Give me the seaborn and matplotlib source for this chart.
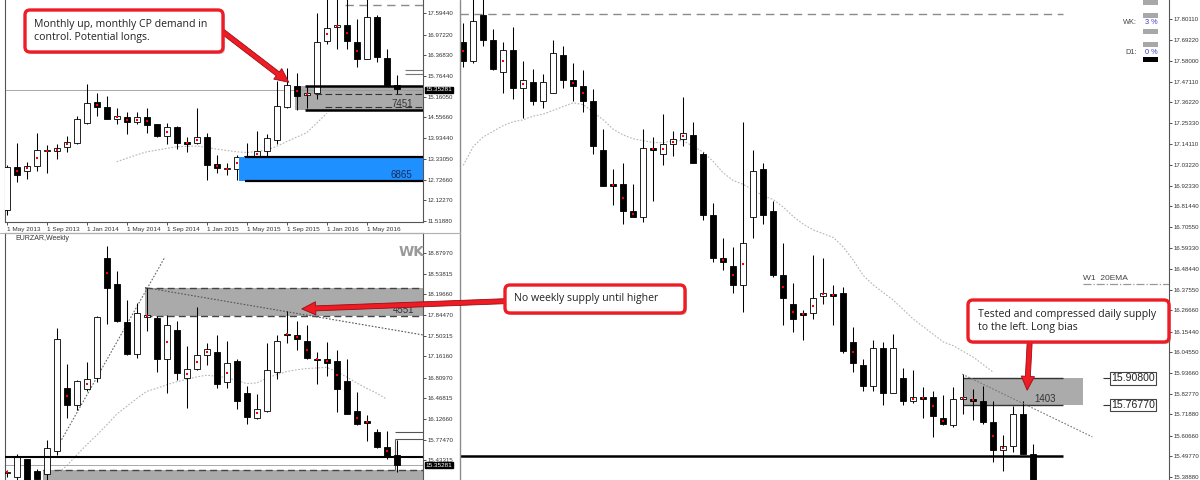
import numpy as np
import seaborn as sns
import matplotlib.pyplot as plt
import matplotlib.transforms as mtransforms
from matplotlib.patches import FancyBboxPatch, FancyArrowPatch, Rectangle
from matplotlib.lines import Line2D

sns.set_style("white")
plt.rcParams["font.family"] = ["Liberation Sans", "DejaVu Sans"]

# ---------------- monthly EURZAR (May 2013 .. Aug 2016) ----------------
m_open = [11.83, 13.10, 12.99, 13.12, 13.57, 13.56, 13.67, 13.81, 14.38, 14.99,
          14.86, 14.50, 14.57, 14.41, 14.55, 14.35, 14.00, 14.28, 13.82, 13.81,
          13.98, 13.18, 13.03, 13.03, 13.38, 13.40, 13.57, 13.90, 14.84, 15.47,
          15.20, 15.27, 16.80, 17.19, 17.26, 16.75, 16.25, 17.48, 16.28, 15.50]
m_high = [13.15, 13.79, 13.23, 14.10, 13.74, 13.77, 14.00, 14.59, 15.53, 15.27,
          15.18, 14.81, 14.72, 14.72, 14.81, 14.36, 14.39, 14.30, 13.96, 14.81,
          14.10, 13.45, 13.22, 13.45, 13.81, 14.16, 14.06, 15.62, 15.99, 15.86,
          15.47, 17.62, 18.09, 18.09, 18.19, 17.42, 18.04, 17.55, 16.54, 15.79]
m_low = [11.70, 12.66, 12.73, 12.99, 12.93, 13.32, 13.54, 13.77, 14.36, 14.59,
         14.49, 14.36, 14.06, 14.36, 14.10, 13.98, 13.77, 13.62, 13.54, 13.77,
         12.71, 12.91, 12.86, 12.71, 13.06, 13.28, 13.40, 13.77, 14.81, 14.77,
         14.81, 15.08, 16.70, 16.54, 16.54, 16.02, 16.25, 16.18, 15.47, 15.23]
m_close = [13.10, 12.86, 13.12, 13.59, 13.58, 13.64, 13.84, 14.49, 14.98, 14.84,
           14.50, 14.60, 14.40, 14.55, 14.34, 14.00, 14.26, 13.81, 13.77, 13.98,
           13.14, 13.07, 13.04, 13.38, 13.40, 13.57, 13.94, 14.88, 15.50, 15.18,
           15.27, 16.77, 17.16, 17.26, 16.80, 16.25, 17.48, 16.33, 15.50, 15.37]
m_dots = [1, 2, 3, 4, 5, 6, 9, 11, 12, 13, 14, 16, 18, 19, 21, 22, 23, 25, 29,
          30, 32, 33, 34, 35]
m_ema_start = 11
m_ema = [13.25, 13.35, 13.45, 13.54, 13.59, 13.64, 13.69, 13.70, 13.71, 13.67,
         13.62, 13.58, 13.54, 13.52, 13.55, 13.59, 13.70, 13.84, 13.97, 14.10,
         14.38, 14.67]
m_date_pos = [0, 4, 8, 12, 16, 20, 24, 28, 32, 36]
m_dates = ["1 May 2013", "1 Sep 2013", "1 Jan 2014", "1 May 2014", "1 Sep 2014",
           "1 Jan 2015", "1 May 2015", "1 Sep 2015", "1 Jan 2016", "1 May 2016"]
m_ticks = [11.5188, 12.1227, 12.7266, 13.3305, 13.9344, 14.5566, 15.1605,
           15.7644, 16.3683, 16.9722, 17.5944]
m_zone = (14.77, 15.47)
m_zone_mid = (14.84, 15.23)
m_demand = (12.69, 13.38)

# ---------------- weekly EURZAR ----------------
w_open = [15.22, 15.16, 15.45, 15.25, 15.21, 15.58, 16.63, 16.35, 16.62, 16.81,
          18.81, 18.37, 17.73, 17.20, 17.82, 17.80, 17.12, 17.60, 16.80, 16.95,
          17.18, 17.23, 16.73, 17.09, 16.55, 16.14, 16.25, 16.90, 17.54, 17.52,
          17.42, 17.12, 17.12, 17.09, 16.76, 16.25, 16.09, 15.91, 15.66, 15.52]
w_high = [15.27, 15.53, 15.46, 15.29, 15.77, 17.63, 17.03, 16.77, 17.07, 17.84,
          19.01, 18.59, 18.10, 18.06, 18.31, 17.84, 17.85, 17.75, 17.34, 17.99,
          17.38, 17.52, 17.42, 17.12, 16.67, 16.53, 17.38, 17.52, 17.92, 17.75,
          17.69, 17.23, 17.40, 17.27, 17.12, 16.57, 16.19, 15.96, 15.92, 15.77]
w_low = [15.15, 15.08, 15.05, 15.05, 15.10, 15.52, 16.14, 16.27, 16.59, 16.74,
         17.71, 17.73, 17.18, 17.14, 17.59, 16.90, 16.56, 16.77, 16.30, 16.94,
         17.02, 16.64, 16.64, 16.29, 16.03, 16.12, 16.24, 16.79, 17.38, 17.27,
         17.12, 16.71, 16.84, 16.24, 16.20, 16.02, 15.75, 15.64, 15.45, 15.23]
w_close = [15.24, 15.51, 15.08, 15.12, 15.63, 17.45, 16.36, 16.75, 16.79, 17.82,
           18.30, 17.75, 17.20, 17.88, 17.86, 17.12, 17.68, 16.88, 16.95, 17.18,
           17.28, 16.70, 17.05, 16.42, 16.16, 16.29, 16.94, 17.42, 17.52, 17.46,
           17.13, 17.11, 17.05, 16.62, 16.21, 16.03, 16.05, 15.66, 15.51, 15.36]
w_dots = [0, 6, 8, 10, 14, 16, 18, 19, 20, 22, 25, 28, 29, 30, 31, 32, 33, 35,
          36, 38]
w_ema_start = 4
w_ema = [15.05, 15.20, 15.34, 15.52, 15.69, 15.85, 16.02, 16.20, 16.33, 16.46,
         16.58, 16.63, 16.69, 16.74, 16.78, 16.82, 16.85, 16.83, 16.81, 16.76,
         16.71, 16.72, 16.80, 16.86, 16.91, 16.94, 16.96, 16.97, 16.98, 16.91,
         16.82, 16.72, 16.63, 16.55, 16.45]
w_ticks = [15.43315, 15.7747, 16.1266, 16.46815, 16.8097, 17.1616, 17.50315,
           17.8447, 18.1966, 18.53815, 18.8797]
w_supply = (17.84, 18.31)
w_base = 15.27
w_level = 15.49

# ---------------- daily EURZAR ----------------
d_open = [17.68, 17.58, 17.82, 17.69, 17.52, 17.64, 17.44, 17.47, 17.37, 17.41,
          17.61, 17.48, 17.45, 17.37, 17.11, 16.93, 16.93, 16.79, 16.76, 17.12,
          17.09, 17.14, 17.17, 17.19, 17.09, 16.77, 16.54, 16.50, 16.40, 16.76,
          17.01, 16.79, 16.45, 16.30, 16.25, 16.25, 16.34, 16.35, 16.36, 16.10,
          15.98, 15.87, 16.07, 15.83, 15.91, 15.79, 15.81, 15.81, 15.70, 15.66,
          15.80, 15.80, 15.79, 15.68, 15.53, 15.55, 15.72, 15.51]
d_high = [17.78, 17.93, 17.93, 17.75, 17.68, 17.76, 17.58, 17.54, 17.51, 17.69,
          17.66, 17.57, 17.53, 17.43, 17.22, 17.01, 17.04, 16.93, 17.22, 17.18,
          17.30, 17.21, 17.39, 17.26, 17.10, 16.83, 16.65, 16.60, 17.26, 17.11,
          17.04, 16.84, 16.62, 16.41, 16.27, 16.56, 16.54, 16.40, 16.39, 16.18,
          16.01, 16.11, 16.10, 16.14, 15.96, 15.95, 15.86, 15.84, 15.82, 15.86,
          15.93, 15.85, 15.87, 15.79, 15.61, 15.76, 15.79, 15.56]
d_low = [17.55, 17.57, 17.66, 17.53, 17.41, 17.38, 17.28, 17.35, 17.33, 17.41,
         17.44, 17.37, 17.31, 17.09, 16.92, 16.82, 16.72, 16.76, 16.73, 16.84,
         17.03, 17.08, 17.13, 17.04, 16.74, 16.52, 16.48, 16.36, 16.26, 16.65,
         16.72, 16.44, 16.19, 16.15, 16.11, 16.22, 16.30, 16.19, 16.04, 15.94,
         15.84, 15.84, 15.77, 15.83, 15.77, 15.78, 15.70, 15.60, 15.66, 15.65,
         15.72, 15.69, 15.67, 15.47, 15.42, 15.52, 15.51, 15.30]
d_close = [17.58, 17.79, 17.69, 17.54, 17.64, 17.44, 17.48, 17.37, 17.47, 17.62,
           17.48, 17.45, 17.37, 17.13, 16.92, 16.92, 16.79, 16.76, 17.12, 17.11,
           17.14, 17.17, 17.20, 17.04, 16.77, 16.54, 16.52, 16.40, 16.62, 17.00,
           16.77, 16.45, 16.33, 16.22, 16.24, 16.33, 16.36, 16.34, 16.05, 15.99,
           15.87, 16.07, 15.83, 16.07, 15.79, 15.81, 15.80, 15.71, 15.67, 15.80,
           15.81, 15.79, 15.68, 15.53, 15.55, 15.72, 15.51, 15.30]
d_dots = [0, 4, 6, 11, 12, 15, 16, 17, 19, 20, 21, 22, 26, 27, 28, 32, 33, 34,
          35, 36, 37, 39, 45, 46, 47, 48, 50, 51, 53, 54]
d_ema = [17.03, 17.13, 17.18, 17.21, 17.24, 17.26, 17.27, 17.29, 17.30, 17.32,
         17.34, 17.36, 17.35, 17.31, 17.27, 17.22, 17.19, 17.17, 17.16, 17.15,
         17.15, 17.16, 17.16, 17.13, 17.10, 17.05, 16.99, 16.95, 16.93, 16.90,
         16.87, 16.85, 16.81, 16.76, 16.72, 16.69, 16.67, 16.65, 16.60, 16.53,
         16.45, 16.40, 16.36, 16.32, 16.27, 16.22, 16.18, 16.14, 16.10, 16.08,
         16.05, 16.02, 15.98, 15.94]
d_ticks = [15.3888, 15.4977, 15.6066, 15.7188, 15.8277, 15.9366, 16.0455,
           16.1544, 16.2666, 16.3755, 16.4844, 16.5933, 16.7055, 16.8144,
           16.9233, 17.0322, 17.1411, 17.2533, 17.3622, 17.4711, 17.5800,
           17.6922, 17.8011]
d_supply = (15.7677, 15.908)
d_level = 15.50
d_top_level = 17.83
w1_ema = 16.405
last_price = 15.35281

W, H = 1200, 480
fig = plt.figure(figsize=(12, 4.8), dpi=100)
# pixel coordinates measured from the top-left corner
px = mtransforms.Affine2D().scale(1 / W, -1 / H).translate(0, 1) + fig.transFigure


def candles(ax, o, h, l, c, dots, min_body):
    o, h, l, c = (np.asarray(v, float) for v in (o, h, l, c))
    x = np.arange(len(o))
    ax.vlines(x, l, h, color="black", lw=0.75, zorder=3)
    body = np.maximum(np.abs(c - o), min_body)
    colors = np.where(c >= o, "white", "black")
    ax.bar(x, body, 0.62, np.minimum(o, c), color=colors, edgecolor="black",
           linewidth=0.6, zorder=4)
    mid = (o + c) / 2
    sns.scatterplot(x=x[dots], y=mid[dots], ax=ax, color="red", marker="s",
                    s=3, linewidth=0, zorder=5, legend=False)


def ema_line(ax, start, vals):
    sns.lineplot(x=np.arange(start, start + len(vals)), y=vals, ax=ax,
                 color="#b5b5b5", lw=0.8, linestyle=(0, (1.5, 1.5)), zorder=2)


def price_axis(ax, ticks, labels):
    ax.set_facecolor("white")
    ax.yaxis.tick_right()
    ax.set_yticks(ticks)
    ax.set_yticklabels(labels)
    ax.tick_params(axis="y", right=True, left=False, length=2, width=0.6,
                   labelsize=4.4, pad=1.2, colors="#333333")
    for s in ax.spines.values():
        s.set_color("#555555")
        s.set_linewidth(0.8)
    ax.set_xlabel("")
    ax.set_ylabel("")


def price_tag(ax, y, text):
    tr = mtransforms.blended_transform_factory(ax.transAxes, ax.transData)
    ax.text(1.006, y, text, transform=tr, fontsize=4.6, color="white",
            va="center", ha="left", zorder=10, clip_on=False,
            bbox=dict(boxstyle="square,pad=0.15", fc="black", ec="black"))


# ---------------- daily panel (right) ----------------
ax_d = fig.add_axes([460 / W, 0, (1169 - 460) / W, 1])
candles(ax_d, d_open, d_high, d_low, d_close, d_dots, 0.006)
ema_line(ax_d, 0, d_ema)
ax_d.hlines(d_top_level, -0.33, 60, color="#8a8a8a", lw=1.0, linestyle=(0, (6, 4)))
ax_d.fill_between([50, 62], d_supply[0], d_supply[1], color="#ababab", lw=0, zorder=1)
ax_d.hlines(d_supply, 50, 60, color="#333333", lw=1.0, zorder=2)
ax_d.text(59.3, 15.80, "1403", fontsize=7, ha="right", va="center", color="#333333")
ax_d.hlines(d_level, -0.33, 60, color="black", lw=1.8, zorder=6)
ax_d.plot([49.9, 62.9], [15.93, 15.60], color="#777777", lw=0.8, ls=(0, (1.5, 1.5)), zorder=6)
ax_d.hlines(w1_ema, 62, 70.57, color="#999999", lw=0.9, linestyle="-.")
ax_d.text(62, w1_ema + 0.012, "W1  20EMA", fontsize=6, color="#444444", va="bottom")
for v in d_supply:
    ax_d.hlines(v, 64.0, 64.7, color="#333333", lw=0.8)
    ax_d.text(64.8, v, f"{v:.5f}", fontsize=7.6, va="center", ha="left", color="#222222",
              bbox=dict(boxstyle="square,pad=0.12", fc="white", ec="#444444", lw=0.8))
ax_d.set_xlim(-0.33, 70.57)
ax_d.set_ylim(15.3726, 17.9012)
price_axis(ax_d, d_ticks, [f"{t:.5f}" for t in d_ticks])
ax_d.set_xticks([])
for s in ("left", "top", "bottom"):
    ax_d.spines[s].set_visible(False)

# ---------------- monthly panel (top-left) ----------------
ax_m = fig.add_axes([5 / W, 1 - 222 / H, 418 / W, 222 / H])
ax_m.fill_between([28.8, 41.63], m_zone[0], m_zone[1], color="#aaaaaa", lw=0, zorder=1)
candles(ax_m, m_open, m_high, m_low, m_close, m_dots, 0.03)
ema_line(ax_m, m_ema_start, m_ema)
ax_m.hlines(m_zone, 29.8, 41.63, color="black", lw=1.8, zorder=6)
ax_m.hlines(m_zone_mid[1], 30.8, 41.63, color="#333333", lw=0.8, linestyle=(0, (6, 3)), zorder=6)
ax_m.hlines(m_zone_mid[0], 31.8, 41.63, color="#333333", lw=0.8, linestyle=(0, (6, 3)), zorder=6)
ax_m.text(40.6, 14.95, "7451", fontsize=7, ha="right", va="center", color="#333333", zorder=7)
ax_m.fill_between([23.2, 41.63], m_demand[0], m_demand[1], color="#1e90ff", lw=0, zorder=6)
ax_m.hlines(m_demand, 23.8, 41.63, color="black", lw=1.6, zorder=7)
ax_m.text(40.6, 12.86, "6865", fontsize=7, ha="right", va="center", color="#1a2a5a", zorder=8)
ax_m.hlines(17.84, 33.8, 41.63, color="#8a8a8a", lw=1.0, linestyle=(0, (6, 4)))
ax_m.hlines([15.93, 15.82], 39.8, 41.63, color="#777777", lw=0.8)
ax_m.axhline(last_price, color="#9a9a9a", lw=0.6, zorder=2)
ax_m.set_xlim(-0.17, 41.63)
ax_m.set_ylim(11.483, 17.99)
price_axis(ax_m, m_ticks, [f"{t:.5f}" for t in m_ticks])
ax_m.set_xticks(m_date_pos)
ax_m.set_xticklabels(m_dates, ha="left")
ax_m.tick_params(axis="x", bottom=True, length=2, width=0.6, labelsize=4.6, pad=1.5,
                 colors="#333333")
ax_m.spines["top"].set_visible(False)
price_tag(ax_m, last_price, f"{last_price:.5f}")

# ---------------- weekly panel (bottom-left) ----------------
ax_w = fig.add_axes([5 / W, 0, 418 / W, (480 - 233) / H])
ax_w.fill_between([13.8, 41.63], w_supply[0], w_supply[1], color="#aaaaaa", lw=0, zorder=1)
ax_w.hlines(w_supply, 13.8, 41.63, color="#444444", lw=1.0, linestyle=(0, (5, 3)), zorder=2)
ax_w.fill_between([3.6, 41.63], 14.9, w_base, color="#aaaaaa", lw=0, zorder=1)
ax_w.hlines(w_base, 3.6, 41.63, color="#444444", lw=1.0, linestyle=(0, (5, 3)), zorder=2)
ax_w.text(40.8, 17.93, "4551", fontsize=7, ha="right", va="center", color="#333333")
candles(ax_w, w_open, w_high, w_low, w_close, w_dots, 0.015)
ema_line(ax_w, w_ema_start, w_ema)
ax_w.plot([4.83, 15.83], [15.58, 18.82], color="#666666", lw=0.8, ls=(0, (1.5, 1.5)), zorder=2)
ax_w.plot([13.83, 41.63], [18.31, 17.52], color="#555555", lw=0.8, ls=(0, (1.5, 1.5)), zorder=2)
ax_w.hlines(w_level, -0.17, 41.63, color="black", lw=1.5, zorder=6)
ax_w.axhline(last_price, color="#9a9a9a", lw=0.6, zorder=2)
ax_w.hlines([15.91, 15.79], 38.8, 41.63, color="#555555", lw=0.8)
ax_w.vlines(38.8, w_base, 15.79, color="#555555", lw=0.8)
ax_w.text(0.025, 0.99, "EURZAR,Weekly", transform=ax_w.transAxes, fontsize=5,
          va="top", ha="left", color="#333333")
ax_w.text(0.973, 0.925, "WK", transform=ax_w.transAxes, fontsize=10, fontweight="bold",
          va="center", ha="center", color="#9a9a9a", family=["DejaVu Sans"])
ax_w.set_xlim(-0.17, 41.63)
ax_w.set_ylim(15.103, 19.2185)
price_axis(ax_w, w_ticks, [f"{t:.5f}" for t in w_ticks])
ax_w.set_xticks([])
ax_w.spines["bottom"].set_visible(False)
price_tag(ax_w, last_price, f"{last_price:.5f}")

# panel separators
fig.add_artist(Line2D([460, 460], [0, 480], transform=px, color="#8c8c8c", lw=1.0))
fig.add_artist(Line2D([0, 460], [233, 233], transform=px, color="#b0b0b0", lw=0.8))

# WK / D1 widget (top right)
for y0 in (0, 13, 29, 42):
    fig.add_artist(Rectangle((1143, y0), 15, 4.5, transform=px, fc="#a8a8a8", ec="none"))
fig.add_artist(Rectangle((1143, 57), 15, 5, transform=px, fc="black", ec="none"))
fig.text(1137, 23, "WK:", transform=px, fontsize=5.3, ha="right", va="center", color="#444444")
fig.text(1158, 23, "3 %", transform=px, fontsize=5.3, ha="right", va="center", color="#3a3acc")
fig.text(1137, 52, "D1:", transform=px, fontsize=5.3, ha="right", va="center", color="#444444")
fig.text(1158, 52, "0 %", transform=px, fontsize=5.3, ha="right", va="center", color="#3a3acc")


# red call-out boxes with arrows
def callout(x0, y0, w, h, text, tx, ty, tail, tip, head_w=9.5, head_l=10):
    fig.add_artist(FancyBboxPatch((x0 + 2, y0 + 2), w, h, boxstyle="round,pad=0,rounding_size=5",
                                  transform=px, fc="#7f7f7f", ec="none", alpha=0.45, zorder=10))
    fig.add_artist(FancyArrowPatch(tail, tip, transform=px, mutation_scale=1,
                                   arrowstyle=f"simple,head_width={head_w},head_length={head_l},tail_width=3.6",
                                   fc="#ee1c24", ec="#9a0d12", lw=0.6, zorder=10.5))
    fig.add_artist(FancyBboxPatch((x0, y0), w, h, boxstyle="round,pad=0,rounding_size=5",
                                  transform=px, fc="white", ec="#ee1c24", lw=2.4, zorder=11))
    fig.text(tx, ty, text, transform=px, fontsize=7.6, ha="left", va="center",
             color="#222222", family=["Open Sans", "DejaVu Sans"], linespacing=1.25, zorder=12)


callout(25, 10, 198, 42, "Monthly up, monthly CP demand in\ncontrol. Potential longs.",
        34, 31, (218, 28), (291, 84))
callout(505, 285, 180, 28, "No weekly supply until higher", 514, 299, (510, 301), (299, 309))
callout(968, 300, 201, 42, "Tested and compressed daily supply\nto the left. Long bias",
        978, 321, (1030, 336), (1027, 393))

fig.savefig("out.png", dpi=100)
